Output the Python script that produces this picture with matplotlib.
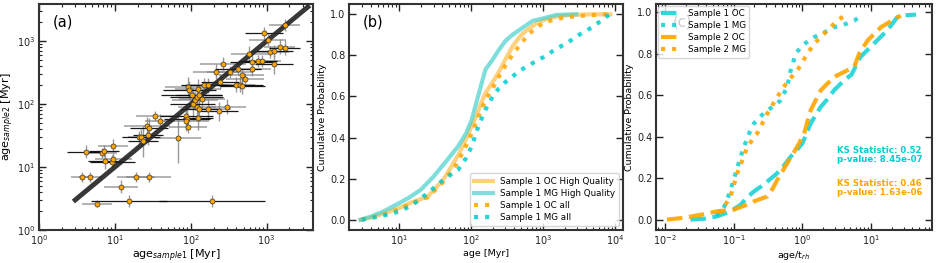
import numpy as np
import matplotlib
matplotlib.use("Agg")
import matplotlib.pyplot as plt
from matplotlib.ticker import LogLocator, NullFormatter

# ---------------- Panel (a) data ----------------
age1 = [4.14, 3.7, 4.77, 5.78, 6.8, 7.2, 7.4, 9.5, 9.3, 9.6, 12.1, 15.3, 19, 27.9,
        21, 22.3, 23.7, 26.5, 27.9, 27.3, 33.4, 39.7, 68, 87.7, 89.5, 88, 92,
        91, 96, 103, 106, 114, 120, 124, 129, 120, 129, 126, 140, 149, 171, 171,
        216, 237, 265, 302, 331, 246, 418, 398, 449, 468, 482, 523, 596, 653,
        653, 768, 867, 931, 1031, 1117, 1238, 1238, 1486, 1729, 1729, 193]
age2 = [17.5, 7.0, 7.0, 2.62, 16.9, 18.0, 12.3, 22, 12.2, 13.5, 4.87, 2.89, 7.0, 7.0,
        29.6, 30, 25.5, 44.8, 42.5, 32.2, 63.7, 54.4, 29.2, 65.3, 59, 53.7, 43.7,
        188, 167, 141, 100, 116, 128, 177, 142, 91, 85, 61, 119, 200, 200, 85,
        326, 77, 442, 91, 322, 226, 368, 205, 205, 289, 193, 249, 637, 470,
        368, 482, 482, 1356, 1063, 677, 694, 431, 813, 784, 1796, 2.89]
# errors in dex
err1 = [0.25, 0.15, 0.15, 0.2, 0.2, 0.2, 0.22, 0.2, 0.3, 0.25, 0.22, 0.5, 0.25, 0.3,
        0.15, 0.25, 0.2, 0.3, 0.25, 0.2, 0.25, 0.2, 0.3, 0.35, 0.3, 0.3, 0.25,
        0.3, 0.35, 0.4, 0.3, 0.3, 0.35, 0.3, 0.3, 0.25, 0.25, 0.2, 0.3, 0.3, 0.3, 0.3,
        0.3, 0.25, 0.3, 0.25, 0.3, 0.25, 0.3, 0.25, 0.3, 0.3, 0.3, 0.25, 0.25, 0.3,
        0.25, 0.25, 0.25, 0.25, 0.25, 0.25, 0.25, 0.25, 0.2, 0.2, 0.2, 0.7]
err2 = [0.1, 0.08, 0.08, 0.06, 0.08, 0.1, 0.12, 0.1, 0.1, 0.1, 0.1, 0.1, 0.08, 0.08,
        0.1, 0.12, 0.25, 0.15, 0.15, 0.15, 0.08, 0.1, 0.4, 0.15, 0.15, 0.15, 0.1,
        0.15, 0.15, 0.12, 0.25, 0.15, 0.2, 0.15, 0.15, 0.2, 0.2, 0.2, 0.15, 0.12, 0.12, 0.15,
        0.12, 0.15, 0.1, 0.12, 0.1, 0.12, 0.1, 0.12, 0.12, 0.12, 0.12, 0.1, 0.12, 0.12,
        0.12, 0.1, 0.1, 0.1, 0.1, 0.1, 0.1, 0.15, 0.12, 0.12, 0.1, 0.1]
xgray = [0, 1, 1, 1, 1, 0, 0, 1, 0, 1, 1, 0, 1, 1,
         1, 0, 0, 1, 0, 0, 1, 1, 1, 0, 0, 1, 1,
         1, 0, 0, 0, 1, 0, 1, 0, 1, 0, 0, 1, 0, 1, 1,
         1, 0, 1, 1, 1, 0, 0, 1, 0, 1, 0, 1, 1, 0,
         1, 0, 1, 0, 1, 1, 0, 0, 1, 0, 1, 0]
line_ab = [3, 3500]

# ---------------- Panel (b) data ----------------
b_oc_hq_x = [2.9, 4, 6, 10, 15, 25, 40, 53.6, 70, 92, 110, 127, 158, 200, 244, 300, 376, 500, 646, 850, 1110, 1600, 2630, 5000, 8700]
b_oc_hq_y = [0.0, 0.01, 0.03, 0.057, 0.085, 0.113, 0.19, 0.26, 0.33, 0.42, 0.48, 0.535, 0.616, 0.67, 0.72, 0.78, 0.843, 0.9, 0.932, 0.96, 0.976, 0.99, 0.997, 1.0, 1.0]
b_mg_hq_x = [2.9, 4, 6, 10, 14, 20, 30, 43, 66, 85, 102, 125, 158, 200, 244, 300, 376, 500, 720, 1000, 1530, 2900]
b_mg_hq_y = [0.0, 0.015, 0.04, 0.081, 0.11, 0.146, 0.21, 0.276, 0.357, 0.42, 0.486, 0.6, 0.73, 0.78, 0.827, 0.87, 0.9, 0.93, 0.968, 0.98, 0.997, 1.0]
b_oc_all_x = [3, 4, 6, 10, 15, 25, 40, 60, 80, 102, 130, 158, 200, 244, 300, 376, 500, 646, 850, 1100, 2000, 3500, 6000, 8500]
b_oc_all_y = [0.0, 0.01, 0.025, 0.052, 0.08, 0.11, 0.18, 0.26, 0.34, 0.42, 0.51, 0.583, 0.64, 0.697, 0.75, 0.802, 0.86, 0.907, 0.94, 0.964, 0.985, 0.993, 0.998, 1.0]
b_mg_all_x = [3, 4, 6, 10, 15, 25, 43, 66, 85, 102, 125, 158, 200, 244, 300, 376, 500, 700, 1000, 1500, 2200, 3000, 5000, 8500]
b_mg_all_y = [0.0, 0.008, 0.02, 0.04, 0.07, 0.13, 0.2, 0.243, 0.3, 0.357, 0.45, 0.535, 0.6, 0.64, 0.67, 0.697, 0.73, 0.76, 0.79, 0.83, 0.862, 0.895, 0.94, 1.0]

# ---------------- Panel (c) data ----------------
c_s1oc_x = [0.0235, 0.04, 0.0575, 0.09, 0.126, 0.16, 0.197, 0.25, 0.309, 0.4, 0.483, 0.676, 0.85, 1.0, 1.32, 1.85, 2.3, 2.89, 4.05, 5.2, 6.98, 10.9, 17.1, 24, 30, 44.9]
c_s1oc_y = [0.0, 0.005, 0.016, 0.04, 0.072, 0.11, 0.136, 0.16, 0.184, 0.215, 0.24, 0.304, 0.34, 0.368, 0.464, 0.544, 0.58, 0.624, 0.672, 0.7, 0.784, 0.848, 0.912, 0.976, 0.985, 0.989]
c_s1mg_x = [0.055, 0.07, 0.0805, 0.1, 0.12, 0.141, 0.17, 0.197, 0.25, 0.309, 0.4, 0.483, 0.6, 0.676, 0.8, 0.95, 1.2, 1.48, 2.0, 2.89, 4.0, 5.67, 6.7]
c_s1mg_y = [0.02, 0.05, 0.096, 0.192, 0.28, 0.352, 0.42, 0.464, 0.5, 0.528, 0.55, 0.576, 0.64, 0.72, 0.8, 0.832, 0.86, 0.88, 0.9, 0.928, 0.94, 0.96, 0.976]
c_s2oc_x = [0.0107, 0.02, 0.035, 0.0575, 0.1, 0.15, 0.197, 0.309, 0.37, 0.432, 0.6, 0.845, 1.06, 1.32, 1.85, 2.89, 4.5, 5.67, 6.7, 8.9, 13.9, 20, 27]
c_s2oc_y = [0.0, 0.01, 0.025, 0.04, 0.048, 0.07, 0.088, 0.112, 0.15, 0.192, 0.272, 0.352, 0.416, 0.528, 0.624, 0.688, 0.72, 0.736, 0.8, 0.864, 0.928, 0.96, 0.984]
c_s2mg_x = [0.06, 0.075, 0.09, 0.113, 0.135, 0.158, 0.22, 0.309, 0.432, 0.6, 0.845, 1.18, 1.48, 2.3, 3.0, 4.05]
c_s2mg_y = [0.03, 0.07, 0.112, 0.224, 0.29, 0.352, 0.416, 0.512, 0.592, 0.664, 0.72, 0.8, 0.848, 0.912, 0.95, 0.984]

ks_text1 = "KS Statistic: 0.52\np-value: 8.45e-07"
ks_text2 = "KS Statistic: 0.46\np-value: 1.63e-06"

# ---------------- Figure ----------------
plt.rcParams['font.family'] = ['DejaVu Sans']
plt.rcParams['font.size'] = 6.5
fig = plt.figure(figsize=(9.47, 2.63), dpi=100)
W, H = 947, 263
def ax_at(l, r):
    return fig.add_axes([l / W, 1 - 230 / H, (r - l) / W, 226 / H])

axa = ax_at(39, 313)
axb = ax_at(349, 623)
axc = ax_at(656, 932)

def style(ax, logy=False):
    for s in ax.spines.values():
        s.set_linewidth(1.5)
        s.set_color('#333333')
    ax.tick_params(which='both', direction='in', top=True, right=True, labelsize=7, colors='#222222', pad=2.5)
    ax.tick_params(which='major', length=5, width=1)
    ax.tick_params(which='minor', length=2.5, width=0.8)
    ax.xaxis.set_minor_locator(LogLocator(base=10, subs=np.arange(2, 10), numticks=20))
    ax.xaxis.set_minor_formatter(NullFormatter())
    if logy:
        ax.yaxis.set_minor_locator(LogLocator(base=10, subs=np.arange(2, 10), numticks=20))
        ax.yaxis.set_minor_formatter(NullFormatter())

# Panel (a)
a1 = np.array(age1); a2 = np.array(age2)
e1 = np.array(err1); e2 = np.array(err2)
xg = np.array(xgray, dtype=bool)
xlo = a1 - a1 / 10**e1; xhi = a1 * 10**e1 - a1
ylo = a2 - a2 / 10**e2; yhi = a2 * 10**e2 - a2
axa.set_xscale('log'); axa.set_yscale('log')
axa.errorbar(a1, a2, yerr=[ylo, yhi], fmt='none', ecolor='gray', alpha=0.8, elinewidth=1.0, zorder=2)
axa.errorbar(a1[xg], a2[xg], xerr=[xlo[xg], xhi[xg]], fmt='none', ecolor='gray', alpha=0.7, elinewidth=1.2, zorder=2)
axa.errorbar(a1[~xg], a2[~xg], xerr=[xlo[~xg], xhi[~xg]], fmt='none', ecolor='black', alpha=0.9, elinewidth=0.9, zorder=2)
axa.plot(line_ab, line_ab, color='#222222', alpha=0.9, lw=3.5, zorder=3)
axa.scatter(a1, a2, s=13, c='orange', edgecolors='#333333', linewidths=0.5, zorder=4)
axa.set_xlim(1, 4100); axa.set_ylim(1, 3900)
axa.set_xlabel('age$_{sample1}$ [Myr]', fontsize=8, labelpad=0.5)
axa.set_ylabel('age$_{sample2}$ [Myr]', fontsize=8, labelpad=0.5)
axa.text(0.05, 0.92, '(a)', transform=axa.transAxes, fontsize=10.5, va='center')
style(axa, logy=True)

# Panel (b)
axb.set_xscale('log')
axb.plot(b_oc_hq_x, b_oc_hq_y, color='orange', alpha=0.5, lw=3, label='Sample 1 OC High Quality')
axb.plot(b_mg_hq_x, b_mg_hq_y, color='mediumturquoise', alpha=0.7, lw=3, label='Sample 1 MG High Quality')
axb.plot(b_oc_all_x, b_oc_all_y, color='orange', lw=3, ls=':', alpha=0.85, label='Sample 1 OC all')
axb.plot(b_mg_all_x, b_mg_all_y, color='darkturquoise', lw=3, ls=':', alpha=0.85, label='Sample 1 MG all')
axb.set_xlim(2.0, 13000); axb.set_ylim(-0.05, 1.05)
axb.set_xlabel('age [Myr]', fontsize=6.8, labelpad=1)
axb.set_ylabel('Cumulative Probability', fontsize=6.8, labelpad=2)
axb.text(0.05, 0.92, '(b)', transform=axb.transAxes, fontsize=10.5, va='center')
axb.legend(loc='lower right', fontsize=6.3, handlelength=2.2, borderaxespad=0.5, labelspacing=0.35)
style(axb)

# Panel (c)
axc.set_xscale('log')
axc.text(0.06, 0.92, '(c)', transform=axc.transAxes, fontsize=10.5, va='center')
axc.plot(c_s1oc_x, c_s1oc_y, color='darkturquoise', lw=3, ls='--', alpha=0.8, label='Sample 1 OC')
axc.plot(c_s1mg_x, c_s1mg_y, color='darkturquoise', lw=3, ls=':', alpha=0.8, label='Sample 1 MG')
axc.plot(c_s2oc_x, c_s2oc_y, color='orange', lw=3, ls='--', alpha=0.9, label='Sample 2 OC')
axc.plot(c_s2mg_x, c_s2mg_y, color='orange', lw=3, ls=':', alpha=0.9, label='Sample 2 MG')
axc.set_xlim(0.0074, 77); axc.set_ylim(-0.05, 1.04)
axc.set_xlabel('age/t$_{rh}$', fontsize=6.8, labelpad=1)
axc.set_ylabel('Cumulative Probability', fontsize=6.8, labelpad=2)
axc.text(0.655, 0.33, ks_text1, transform=axc.transAxes, color='darkturquoise', fontsize=6.2, fontweight='bold', va='center', linespacing=1.0)
axc.text(0.655, 0.185, ks_text2, transform=axc.transAxes, color='orange', fontsize=6.2, fontweight='bold', va='center', linespacing=1.0)
axc.legend(loc='upper left', fontsize=6.3, handlelength=2.2, borderaxespad=0.2, labelspacing=0.35)
style(axc)

fig.savefig('out.png', dpi=100)
